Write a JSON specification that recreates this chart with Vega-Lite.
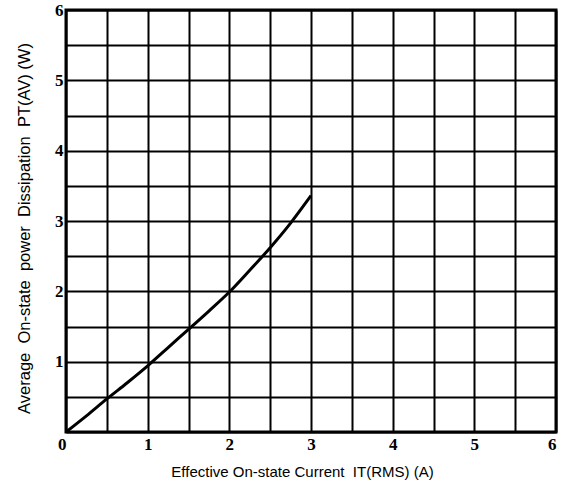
{
  "$schema": "https://vega.github.io/schema/vega-lite/v6.json",
  "width": 490,
  "height": 422,
  "autosize": "none",
  "padding": {"left": 66, "top": 10, "right": 6, "bottom": 64},
  "background": "white",
  "config": {
    "view": {"stroke": "black", "strokeWidth": 3},
    "axis": {
      "domain": false,
      "ticks": false,
      "grid": true,
      "gridColor": "black",
      "gridWidth": 2,
      "gridOpacity": 1,
      "labelFont": "Liberation Serif",
      "labelFontWeight": "bold",
      "labelFontSize": 17,
      "labelColor": "black",
      "titleFont": "Liberation Sans",
      "titleFontWeight": "normal",
      "titleFontSize": 15,
      "titleColor": "black"
    }
  },
  "data": {
    "values": [
      {"i": 0, "p": 0},
      {"i": 0.25, "p": 0.23},
      {"i": 0.5, "p": 0.47},
      {"i": 0.75, "p": 0.7},
      {"i": 1, "p": 0.94},
      {"i": 1.25, "p": 1.2},
      {"i": 1.5, "p": 1.46},
      {"i": 1.75, "p": 1.72},
      {"i": 2, "p": 1.99},
      {"i": 2.25, "p": 2.3},
      {"i": 2.5, "p": 2.62},
      {"i": 2.75, "p": 2.97},
      {"i": 3, "p": 3.36}
    ]
  },
  "mark": {"type": "line", "color": "black", "strokeWidth": 3, "interpolate": "monotone"},
  "encoding": {
    "x": {
      "field": "i",
      "type": "quantitative",
      "scale": {"domain": [0, 6], "nice": false},
      "axis": {
        "values": [0, 0.5, 1, 1.5, 2, 2.5, 3, 3.5, 4, 4.5, 5, 5.5, 6],
        "labelExpr": "datum.value % 1 === 0 ? format(datum.value, 'd') : ''",
        "labelAlign": {"condition": [{"test": "datum.value == 6", "value": "right"}, {"test": "datum.value == 0", "value": "right"}], "value": "center"},
        "labelPadding": 4,
        "labelFlush": false,
        "title": "Effective On-state Current\u00a0 IT(RMS) (A)",
        "titlePadding": 12,
        "titleX": 236
      }
    },
    "y": {
      "field": "p",
      "type": "quantitative",
      "scale": {"domain": [0, 6], "nice": false},
      "axis": {
        "values": [0, 0.5, 1, 1.5, 2, 2.5, 3, 3.5, 4, 4.5, 5, 5.5, 6],
        "labelExpr": "datum.value % 1 === 0 && datum.value > 0 ? format(datum.value, 'd') : ''",
        "labelPadding": 3,
        "labelFlush": false,
        "title": "Average\u00a0 On-state\u00a0 power\u00a0 Dissipation\u00a0 PT(AV) (W)",
        "titleFontSize": 16.5,
        "titlePadding": 22,
        "titleY": 218
      }
    }
  }
}
